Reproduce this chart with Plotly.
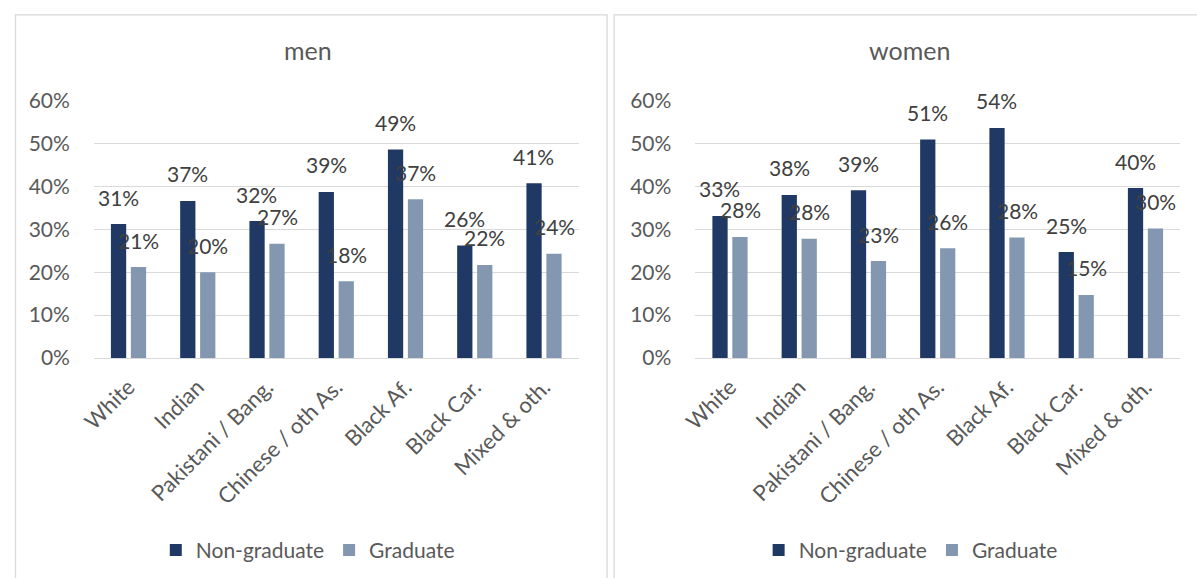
import plotly.graph_objects as go

# Ethnic groups shown on the x axis
groups = ["White", "Indian", "Pakistani / Bang.", "Chinese / oth As.",
          "Black Af.", "Black Car.", "Mixed & oth."]

# Shares by group, split by graduate status
men_non_grad = [0.312, 0.366, 0.319, 0.387, 0.486, 0.262, 0.407]
men_grad = [0.212, 0.200, 0.266, 0.179, 0.370, 0.217, 0.243]
women_non_grad = [0.331, 0.380, 0.391, 0.509, 0.536, 0.247, 0.396]
women_grad = [0.282, 0.278, 0.226, 0.256, 0.281, 0.147, 0.302]

panel_titles = ["men", "women"]
series_names = ["Non-graduate", "Graduate"]
y_ticks = [0, 0.1, 0.2, 0.3, 0.4, 0.5, 0.6]

DARK = "#203864"
LIGHT = "#8497B0"
GRID = "#D9D9D9"
TICK_TXT = "#595959"
LABEL_TXT = "#404040"
FONT = "Lato"

W, H = 1197, 578


def fx(px):
    """Horizontal pixel position -> paper fraction."""
    return px / W


def fy(py):
    """Vertical pixel position (from top) -> paper fraction."""
    return 1 - py / H


fig = go.Figure()

panels = [
    ("x", "y", "legend", men_non_grad, men_grad),
    ("x2", "y2", "legend2", women_non_grad, women_grad),
]

for xa, ya, leg, ng, gr in panels:
    for name, vals, col in ((series_names[0], ng, DARK), (series_names[1], gr, LIGHT)):
        fig.add_trace(go.Bar(
            x=groups, y=vals, name=name, marker=dict(color=col, line=dict(width=0)),
            xaxis=xa, yaxis=ya, legend=leg, hoverinfo="skip",
        ))

# Value labels above each bar
annotations = []
for xa, ya, leg, ng, gr in panels:
    for vals, shift in ((ng, -10.1), (gr, 10.1)):
        for g, v in zip(groups, vals):
            annotations.append(dict(
                x=g, y=v, xref=xa, yref=ya, text=f"{v:.0%}", showarrow=False,
                xshift=shift, yshift=27, yanchor="middle", xanchor="center",
                font=dict(family=FONT, size=21, color=LABEL_TXT),
            ))

# Panel titles
for title, cx in zip(panel_titles, (296.5, 906)):
    annotations.append(dict(
        x=fx(cx), y=fy(37.5), xref="paper", yref="paper", text=title,
        showarrow=False, xanchor="center", yanchor="middle",
        font=dict(family=FONT, size=25, color=TICK_TXT),
    ))

y_dom = [fy(359.6), fy(90.4)]
axis_y = dict(
    range=[0, 0.6], tickvals=y_ticks, tickformat=".0%", showgrid=True,
    gridcolor=GRID, gridwidth=1.3, zeroline=True, zerolinecolor=GRID,
    zerolinewidth=1.3, showline=False, ticks="", ticklabelstandoff=23,
    tickfont=dict(family=FONT, size=21, color=TICK_TXT), domain=y_dom,
    fixedrange=True,
)
axis_x = dict(
    type="category", tickangle=-45, showgrid=False, showline=False, ticks="",
    tickfont=dict(family=FONT, size=22, color=TICK_TXT), ticklabelstandoff=11,
    fixedrange=True,
)

legend_style = dict(
    orientation="h", xanchor="center", yanchor="middle", y=fy(560.6),
    font=dict(family=FONT, size=21, color=TICK_TXT), bgcolor="rgba(0,0,0,0)",
    itemwidth=30, traceorder="normal",
)

# Light frames around the two panels
shapes = [
    dict(type="rect", xref="paper", yref="paper", x0=fx(0.5), x1=fx(599.6),
         y0=-0.05, y1=fy(1.0), line=dict(color=GRID, width=1.3)),
    dict(type="rect", xref="paper", yref="paper", x0=fx(606.7), x1=1.05,
         y0=-0.05, y1=fy(1.0), line=dict(color=GRID, width=1.3)),
]

fig.update_layout(
    width=W, height=H, margin=dict(l=0, r=0, t=0, b=0),
    paper_bgcolor="white", plot_bgcolor="white",
    barmode="group", bargap=0.424, bargroupgap=0.235,
    xaxis=dict(axis_x, domain=[fx(79.9), fx(570.8)], anchor="y"),
    yaxis=dict(axis_y, anchor="x"),
    xaxis2=dict(axis_x, domain=[fx(689.0), fx(1179.9)], anchor="y2"),
    yaxis2=dict(axis_y, anchor="x2"),
    legend=dict(legend_style, x=fx(296.5)),
    legend2=dict(legend_style, x=fx(907)),
    annotations=annotations, shapes=shapes,
    font=dict(family=FONT, color=TICK_TXT),
)

fig.write_html("out.html")
